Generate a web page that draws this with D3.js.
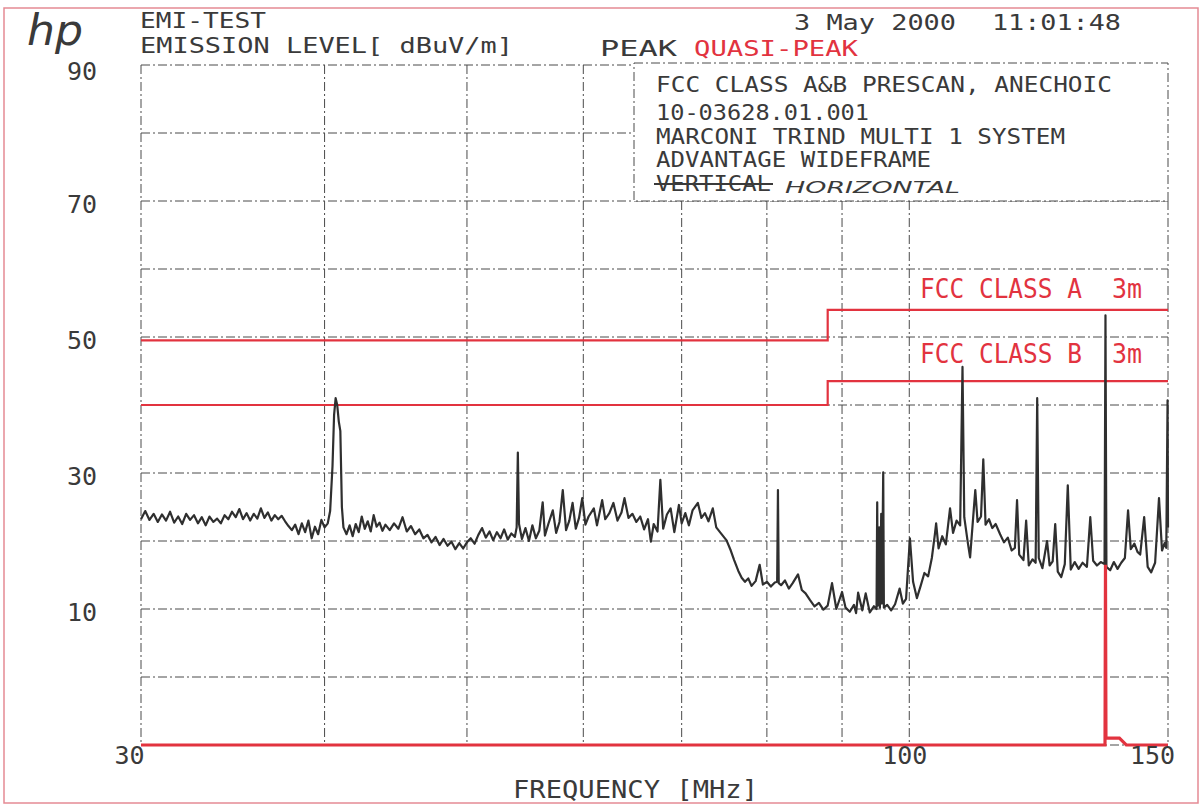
<!DOCTYPE html>
<html lang="en">
<head>
<meta charset="UTF-8">
<title>EMI-TEST emission level</title>
<script src="https://d3js.org/d3.v7.min.js"></script>
<style>
  body { margin: 0; background: #fff; }
  text { font-family: "DejaVu Sans Mono", monospace; fill: #3a3a3a; }
  .red { fill: #e2333f; }
</style>
</head>
<body>
<script>
// grid and tick values
var xGrid = [30, 40, 50, 60, 70, 80, 90, 100, 150];
var yGrid = [-10, 0, 10, 20, 30, 40, 50, 60, 70, 80, 90];
var yTickLabels = [10, 30, 50, 70, 90];
var xTickLabels = [30, 100, 150];

// FCC limits, 3m
var classA = [[30, 49.5], [88, 49.5], [88, 54], [150, 54]];
var classB = [[30, 40], [88, 40], [88, 43.5], [150, 43.5]];

// quasi-peak trace (red)
var quasiPeak = [[30, -10], [135.9, -10], [136.0, 16.5], [136.1, -9], [139.0, -9], [140.5, -10], [150, -10]];

// peak trace, [MHz, dBuV/m]
var peakTrace = [
  [30.0,23.2],[30.2,24.4],[30.4,23.1],[30.6,24.0],[30.8,22.8],[31.0,23.9],[31.2,23.0],[31.4,24.3],[31.6,22.7],[31.8,23.6],
  [32.0,22.5],[32.2,24.0],[32.4,23.1],[32.6,23.8],[32.8,22.6],[33.0,23.5],[33.2,22.3],[33.4,23.6],[33.6,22.8],[33.8,23.3],
  [34.0,22.6],[34.2,23.8],[34.4,23.2],[34.6,24.3],[34.8,23.5],[35.0,24.7],[35.2,23.2],[35.4,24.1],[35.6,23.0],[35.8,24.0],
  [36.0,23.3],[36.2,24.8],[36.4,23.4],[36.6,24.2],[36.8,23.0],[37.0,23.8],[37.2,23.2],[37.4,23.7],[37.6,22.9],[37.8,22.2],
  [38.0,21.6],[38.2,22.4],[38.4,21.0],[38.6,22.6],[38.8,21.3],[39.0,23.0],[39.2,20.4],[39.4,22.1],[39.6,21.0],[39.8,23.1],
  [40.0,22.0],[40.2,22.6],[40.35,24.4],[40.5,31.0],[40.6,38.5],[40.7,41.0],[40.8,40.0],[40.9,37.6],[41.0,36.2],[41.1,25.0],
  [41.2,22.0],[41.4,21.0],[41.6,22.3],[41.8,20.7],[42.0,22.5],[42.2,21.3],[42.4,23.6],[42.6,21.8],[42.8,22.9],[43.0,21.4],
  [43.2,23.8],[43.4,22.1],[43.6,22.7],[43.8,21.5],[44.0,22.4],[44.3,21.6],[44.6,22.6],[44.9,21.8],[45.2,23.5],[45.5,21.4],
  [45.8,22.2],[46.1,21.0],[46.4,21.7],[46.7,20.4],[47.0,20.9],[47.3,19.8],[47.6,20.6],[47.9,19.4],[48.2,20.3],[48.5,19.3],
  [48.8,19.9],[49.1,18.8],[49.4,19.7],[49.7,18.9],[50.0,19.8],[50.3,20.4],[50.6,19.6],[50.9,20.9],[51.2,21.9],[51.5,20.5],
  [51.8,21.4],[52.1,20.1],[52.4,21.3],[52.7,20.4],[53.0,21.7],[53.3,20.2],[53.6,21.1],[53.9,20.6],[54.05,22.0],[54.15,33.0],
  [54.25,22.5],[54.5,20.3],[54.8,21.9],[55.1,20.0],[55.4,22.3],[55.7,20.4],[56.0,21.5],[56.3,25.7],[56.5,20.8],[56.8,22.5],
  [57.2,24.5],[57.5,21.2],[57.8,22.8],[58.1,27.5],[58.4,21.6],[58.7,23.0],[59.0,25.6],[59.3,21.8],[59.6,23.4],[59.9,26.3],
  [60.2,22.4],[60.5,23.6],[61.0,24.8],[61.3,22.3],[61.8,26.0],[62.1,23.2],[62.5,24.1],[62.9,25.6],[63.3,23.0],[63.7,24.2],
  [64.0,26.3],[64.4,23.4],[64.8,24.0],[65.2,22.8],[65.6,23.6],[66.0,21.7],[66.4,23.2],[66.7,19.9],[67.0,22.5],[67.4,21.4],
  [67.7,29.0],[68.0,21.8],[68.4,23.9],[68.8,24.8],[69.2,21.3],[69.7,25.3],[70.0,22.6],[70.4,24.1],[70.8,22.3],[71.2,24.5],
  [71.8,25.6],[72.2,23.4],[72.6,24.1],[73.0,22.9],[73.5,24.8],[73.9,22.0],[74.4,21.2],[75.1,20.1],[75.6,18.6],[76.0,17.2],
  [76.5,15.6],[76.9,14.6],[77.3,14.0],[77.7,14.5],[78.1,13.4],[78.6,14.1],[79.1,16.5],[79.5,13.6],[80.0,14.0],[80.5,13.3],
  [81.0,13.9],[81.3,14.0],[81.4,27.5],[81.5,13.8],[81.8,13.5],[82.3,14.2],[82.8,13.0],[83.3,13.8],[84.0,15.1],[84.5,12.8],
  [85.0,12.3],[85.6,11.3],[86.2,10.4],[86.8,10.9],[87.4,9.9],[88.0,10.5],[88.6,13.8],[89.2,10.0],[90.0,12.5],[90.5,10.2],
  [91.1,9.6],[91.7,10.6],[92.0,9.4],[92.3,12.4],[92.9,9.8],[93.4,12.3],[94.0,9.5],[94.6,10.4],[95.0,10.0],[95.1,25.7],
  [95.2,10.5],[95.4,22.0],[95.5,10.2],[95.7,24.0],[95.8,10.8],[96.0,30.1],[96.1,10.2],[96.6,10.6],[97.2,9.8],[97.8,10.7],
  [98.5,13.0],[99.0,10.8],[99.5,11.5],[100.1,20.4],[100.6,14.0],[101.2,11.6],[101.8,13.4],[102.4,15.3],[103.0,14.8],[103.6,17.5],
  [104.1,21.0],[104.3,22.6],[104.7,18.9],[105.3,20.7],[105.9,19.5],[106.6,24.8],[107.1,21.2],[107.7,23.0],[108.3,22.3],[108.7,45.6],
  [109.0,23.5],[109.6,19.8],[110.0,17.6],[110.9,27.5],[111.3,22.8],[111.9,23.6],[112.3,32.0],[112.7,22.4],[113.3,23.2],[113.9,21.9],
  [114.5,22.5],[115.3,21.0],[116.0,19.8],[116.7,20.5],[117.4,18.6],[118.0,19.0],[118.4,26.0],[118.8,18.0],[119.6,17.2],[120.1,23.0],
  [120.6,16.4],[121.3,17.3],[121.9,16.8],[122.2,41.0],[122.5,17.5],[123.2,16.0],[124.1,20.0],[124.6,16.4],[125.2,17.0],[125.7,22.5],
  [126.2,15.5],[126.9,14.7],[127.6,16.6],[128.2,28.2],[128.8,15.8],[129.6,16.9],[130.4,15.9],[131.2,16.8],[132.1,16.2],[132.8,23.5],
  [133.4,17.1],[134.2,16.4],[135.0,16.9],[135.8,16.6],[136.0,53.2],[136.2,16.2],[137.0,15.7],[137.8,16.9],[138.6,15.9],[139.4,16.8],
  [140.2,17.5],[140.9,24.5],[141.5,18.8],[142.3,19.6],[143.0,18.4],[143.6,18.0],[144.5,23.5],[145.3,16.2],[146.1,15.4],[147.0,16.8],
  [147.9,26.3],[148.6,18.6],[149.2,19.7],[149.6,19.0],[149.9,40.7],[150.0,22.0]
];

// text block in the upper right box
var boxLines = [
  {t: "FCC CLASS A&B PRESCAN, ANECHOIC", y: 92, w: 456},
  {t: "10-03628.01.001", y: 120, w: 213},
  {t: "MARCONI TRIND MULTI 1 SYSTEM", y: 144, w: 409},
  {t: "ADVANTAGE WIDEFRAME", y: 167, w: 275},
  {t: "VERTICAL", y: 191, w: 115}
];

var W = 1204, H = 806;
var svg = d3.select("body").append("svg").attr("width", W).attr("height", H);

var x = d3.scaleLog().domain([30, 150]).range([141, 1168]);
var y = d3.scaleLinear().domain([-10, 90]).range([745, 65]);
var boxLeft = 634, boxBottom = y(70);

var ink = "#3a3a3a", red = "#e2333f";

// page frame
svg.append("rect").attr("x", 4).attr("y", 8).attr("width", 1194).attr("height", 795)
  .attr("fill", "none").attr("stroke", "#e58a94").attr("stroke-width", 1.5);

// grid
var grid = svg.append("g").attr("stroke", "#4a4a4a").attr("stroke-width", 1)
  .attr("stroke-dasharray", "9,3,2,3");
grid.selectAll(".vg").data(xGrid).enter().append("line")
  .attr("x1", d => x(d)).attr("x2", d => x(d))
  .attr("y1", d => x(d) > boxLeft ? boxBottom : y(90)).attr("y2", y(-10));
grid.selectAll(".hg").data(yGrid).enter().append("line")
  .attr("x1", x(30))
  .attr("x2", d => (y(d) < boxBottom && d < 90) ? boxLeft : x(150))
  .attr("y1", d => y(d)).attr("y2", d => y(d));

// text box
svg.append("rect").attr("x", boxLeft).attr("y", 63).attr("width", x(150) - boxLeft).attr("height", boxBottom - 63)
  .attr("fill", "#fff").attr("stroke", "#4a4a4a").attr("stroke-dasharray", "9,3,2,3");

svg.selectAll(".box").data(boxLines).enter().append("text")
  .attr("x", 656).attr("y", d => d.y).attr("font-size", 20.5)
  .attr("textLength", d => d.w).attr("lengthAdjust", "spacingAndGlyphs")
  .text(d => d.t);
svg.append("line").attr("x1", 654).attr("x2", 773).attr("y1", 184).attr("y2", 184)
  .attr("stroke", ink).attr("stroke-width", 2);
svg.append("text").attr("x", 785).attr("y", 193)
  .style("font-family", "'DejaVu Sans', sans-serif").style("font-style", "italic")
  .attr("font-size", 15).attr("textLength", 175).attr("lengthAdjust", "spacingAndGlyphs")
  .text("HORIZONTAL");

var line = d3.line().x(d => x(d[0])).y(d => y(d[1]));

// limit lines
[classA, classB].forEach(function(lim) {
  svg.append("path").attr("d", line(lim)).attr("fill", "none")
    .attr("stroke", red).attr("stroke-width", 2.2);
});

// peak trace
svg.append("path").attr("d", line(peakTrace)).attr("fill", "none")
  .attr("stroke", "#2f2f2f").attr("stroke-width", 2.2).attr("stroke-linejoin", "round");

// quasi-peak trace
svg.append("path").attr("d", line(quasiPeak)).attr("fill", "none")
  .attr("stroke", red).attr("stroke-width", 3.2);

// limit labels
[["FCC CLASS A", 298], ["FCC CLASS B", 363]].forEach(function(l) {
  svg.append("text").attr("class", "red").attr("x", 920).attr("y", l[1]).attr("font-size", 27)
    .attr("textLength", 162).attr("lengthAdjust", "spacingAndGlyphs").text(l[0]);
  svg.append("text").attr("class", "red").attr("x", 1112).attr("y", l[1]).attr("font-size", 27)
    .attr("textLength", 30).attr("lengthAdjust", "spacingAndGlyphs").text("3m");
});

// header
function label(txt, px, py, w, size, cls) {
  return svg.append("text").attr("class", cls || null).attr("x", px).attr("y", py)
    .attr("font-size", size).attr("textLength", w).attr("lengthAdjust", "spacingAndGlyphs").text(txt);
}
label("EMI-TEST", 140, 28, 126, 21);
label("EMISSION LEVEL[ dBuV/m]", 140, 53, 373, 21);
label("PEAK", 600, 56, 77, 21);
label("QUASI-PEAK", 694, 56, 164, 21, "red");
label("3 May 2000", 794, 30, 162, 22);
label("11:01:48", 992, 30, 129, 22);

// hp logo
svg.append("text").attr("x", 27).attr("y", 45)
  .style("font-family", "'DejaVu Sans', sans-serif").style("font-style", "italic")
  .attr("font-weight", 200).attr("font-size", 42).attr("textLength", 56)
  .attr("lengthAdjust", "spacingAndGlyphs").attr("fill", "#444").text("hp");

// y axis labels
var yAxis = d3.axisLeft(y).tickValues(yTickLabels).tickSize(0).tickPadding(0);
var ya = svg.append("g").attr("transform", "translate(97,0)").call(yAxis);
ya.select(".domain").remove();
ya.selectAll("text").attr("font-size", 25).attr("fill", ink)
  .attr("dy", d => d === 90 ? 14 : 11)
  .style("font-family", "'DejaVu Sans Mono', monospace");

// x axis labels
var xShift = {30: -12, 100: -5, 150: -16};
var xAxis = d3.axisBottom(x).tickValues(xTickLabels).tickFormat(d3.format("d")).tickSize(0).tickPadding(0);
var xa = svg.append("g").attr("transform", "translate(0,745)").call(xAxis);
xa.select(".domain").remove();
xa.selectAll("text").attr("font-size", 25).attr("fill", ink)
  .attr("dx", d => xShift[d]).attr("dy", 19)
  .style("font-family", "'DejaVu Sans Mono', monospace");

label("FREQUENCY [MHz]", 513, 798, 245, 24);
</script>
</body>
</html>
